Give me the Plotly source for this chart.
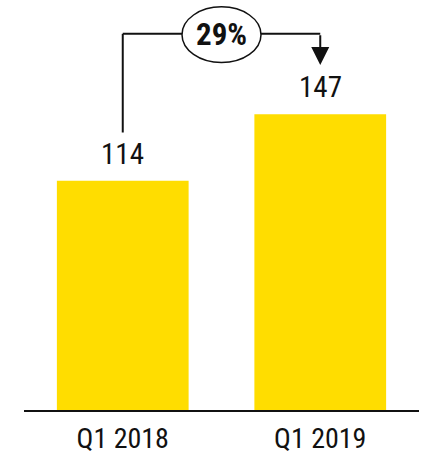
import plotly.graph_objects as go

# Quarterly totals
categories = ["Q1 2018", "Q1 2019"]
values = [114, 147]
change_label = "29%"

bar_color = "#FFDD00"
font_family = "Roboto Condensed, Open Sans Condensed, Arial Narrow, sans-serif"

x_pos = list(range(len(categories)))
y_top = 203.8
bracket_y = values[1] * 1.272      # height of the connector bracket
arrow_tip = values[1] * 1.167      # where the arrowhead stops
label_gap = values[0] * 0.21       # gap between first label and the bracket

fig = go.Figure()
fig.add_trace(go.Bar(
    x=x_pos, y=values, width=0.667,
    marker=dict(color=bar_color, line=dict(width=0)),
    hoverinfo="skip",
))

# value labels above bars
for xi, v in zip(x_pos, values):
    fig.add_annotation(x=xi, y=v, text=str(v), showarrow=False,
                       yanchor="bottom", yshift=8,
                       font=dict(family=font_family, size=29, color="#111111"))

# connector: up from first label, across, down to second label
line_style = dict(color="#111111", width=2)
fig.add_shape(type="line", x0=x_pos[0], x1=x_pos[0],
              y0=values[0] + label_gap, y1=bracket_y, line=line_style)
fig.add_shape(type="line", x0=x_pos[0], x1=x_pos[1],
              y0=bracket_y, y1=bracket_y, line=line_style)
fig.add_annotation(x=x_pos[1], y=arrow_tip, ax=x_pos[1], ay=bracket_y,
                   axref="x", ayref="y", xref="x", yref="y",
                   showarrow=True, arrowhead=2, arrowsize=1.8,
                   arrowwidth=2, arrowcolor="#111111", text="")

# ellipse with the change percentage
mid = (x_pos[0] + x_pos[1]) / 2
fig.add_shape(type="circle", x0=mid - 0.2, x1=mid + 0.2,
              y0=bracket_y - 14.2, y1=bracket_y + 13.4,
              line=dict(color="#111111", width=1.5), fillcolor="white")
fig.add_annotation(x=mid, y=bracket_y, text="<b>" + change_label + "</b>",
                   showarrow=False, yshift=-1,
                   font=dict(family=font_family, size=31, color="#111111"))

fig.update_layout(
    width=423, height=457,
    margin=dict(l=24, r=4, t=0, b=47),
    paper_bgcolor="white", plot_bgcolor="white",
    showlegend=False,
    xaxis=dict(range=[-0.5, 1.5], tickmode="array", tickvals=x_pos,
               ticktext=categories, showgrid=False, zeroline=False,
               showline=True, linecolor="#111111", linewidth=1.5,
               ticks="", ticklen=0, ticklabelstandoff=3,
               tickfont=dict(family=font_family, size=28, color="#111111")),
    yaxis=dict(range=[0, y_top], visible=False, showgrid=False),
)

fig.write_html("out.html")
